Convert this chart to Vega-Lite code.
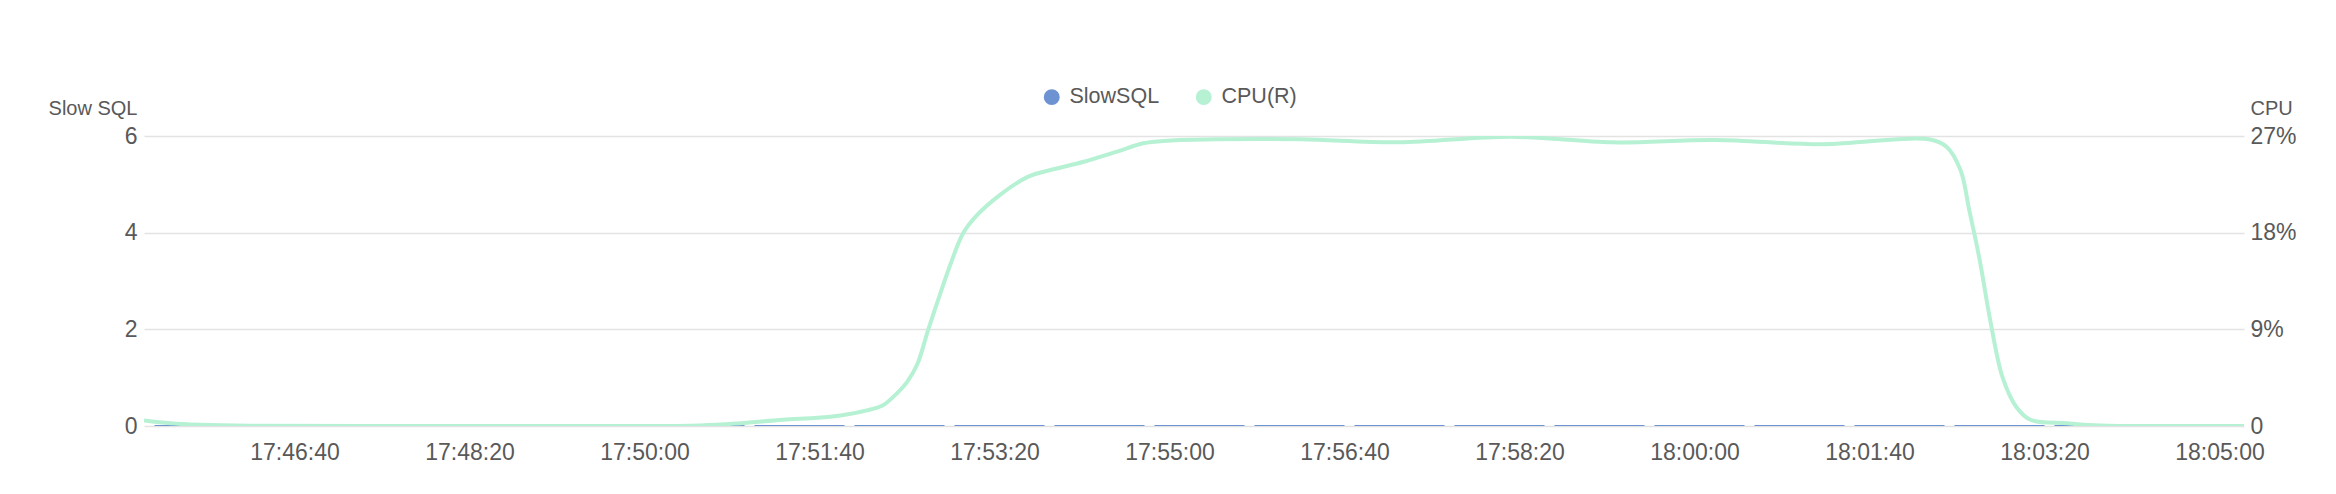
{
  "$schema": "https://vega.github.io/schema/vega-lite/v6.json",
  "width": 2100,
  "height": 290,
  "autosize": {"type": "none"},
  "padding": {"left": 144, "top": 136, "right": 92, "bottom": 68},
  "background": "white",
  "config": {
    "view": {"stroke": null},
    "font": "Liberation Sans",
    "axis": {
      "labelFont": "Liberation Sans",
      "titleFont": "Liberation Sans",
      "labelColor": "#595959",
      "titleColor": "#595959",
      "domain": false,
      "ticks": false,
      "tickSize": 0
    }
  },
  "datasets": {
    "slow": [
      {"time": "2018-10-15T17:45:20Z", "count": 0},
      {"time": "2018-10-15T17:46:20Z", "count": 0},
      {"time": "2018-10-15T17:47:20Z", "count": 0},
      {"time": "2018-10-15T17:48:20Z", "count": 0},
      {"time": "2018-10-15T17:49:20Z", "count": 0},
      {"time": "2018-10-15T17:50:20Z", "count": 0},
      {"time": "2018-10-15T17:51:20Z", "count": 0},
      {"time": "2018-10-15T17:52:20Z", "count": 0},
      {"time": "2018-10-15T17:53:20Z", "count": 0},
      {"time": "2018-10-15T17:54:20Z", "count": 0},
      {"time": "2018-10-15T17:55:20Z", "count": 0},
      {"time": "2018-10-15T17:56:20Z", "count": 0},
      {"time": "2018-10-15T17:57:20Z", "count": 0},
      {"time": "2018-10-15T17:58:20Z", "count": 0},
      {"time": "2018-10-15T17:59:20Z", "count": 0},
      {"time": "2018-10-15T18:00:20Z", "count": 0},
      {"time": "2018-10-15T18:01:20Z", "count": 0},
      {"time": "2018-10-15T18:02:20Z", "count": 0},
      {"time": "2018-10-15T18:03:20Z", "count": 0},
      {"time": "2018-10-15T18:04:20Z", "count": 0},
      {"time": "2018-10-15T18:05:20Z", "count": 0}
    ],
    "cpu": [
      {"time": "2018-10-15T17:45:14Z", "cpu": 0.51},
      {"time": "2018-10-15T17:45:29Z", "cpu": 0.25},
      {"time": "2018-10-15T17:45:46Z", "cpu": 0.11},
      {"time": "2018-10-15T17:46:15Z", "cpu": 0.02},
      {"time": "2018-10-15T17:47:40Z", "cpu": 0},
      {"time": "2018-10-15T17:49:35Z", "cpu": 0},
      {"time": "2018-10-15T17:50:32Z", "cpu": 0.05},
      {"time": "2018-10-15T17:50:55Z", "cpu": 0.26},
      {"time": "2018-10-15T17:51:19Z", "cpu": 0.58},
      {"time": "2018-10-15T17:51:39Z", "cpu": 0.76},
      {"time": "2018-10-15T17:51:52Z", "cpu": 0.98},
      {"time": "2018-10-15T17:52:07Z", "cpu": 1.45},
      {"time": "2018-10-15T17:52:16Z", "cpu": 1.91},
      {"time": "2018-10-15T17:52:22Z", "cpu": 2.69},
      {"time": "2018-10-15T17:52:30Z", "cpu": 4.09},
      {"time": "2018-10-15T17:52:36Z", "cpu": 5.8},
      {"time": "2018-10-15T17:52:42Z", "cpu": 8.91},
      {"time": "2018-10-15T17:52:49Z", "cpu": 12.33},
      {"time": "2018-10-15T17:52:55Z", "cpu": 15.13},
      {"time": "2018-10-15T17:53:02Z", "cpu": 17.93},
      {"time": "2018-10-15T17:53:10Z", "cpu": 19.63},
      {"time": "2018-10-15T17:53:23Z", "cpu": 21.5},
      {"time": "2018-10-15T17:53:39Z", "cpu": 23.2},
      {"time": "2018-10-15T17:53:52Z", "cpu": 23.83},
      {"time": "2018-10-15T17:54:11Z", "cpu": 24.6},
      {"time": "2018-10-15T17:54:30Z", "cpu": 25.54},
      {"time": "2018-10-15T17:54:45Z", "cpu": 26.32},
      {"time": "2018-10-15T17:54:59Z", "cpu": 26.56},
      {"time": "2018-10-15T17:55:27Z", "cpu": 26.69},
      {"time": "2018-10-15T17:56:15Z", "cpu": 26.69},
      {"time": "2018-10-15T17:57:11Z", "cpu": 26.41},
      {"time": "2018-10-15T17:58:15Z", "cpu": 26.93},
      {"time": "2018-10-15T17:59:13Z", "cpu": 26.41},
      {"time": "2018-10-15T18:00:12Z", "cpu": 26.63},
      {"time": "2018-10-15T18:01:13Z", "cpu": 26.23},
      {"time": "2018-10-15T18:02:14Z", "cpu": 26.7},
      {"time": "2018-10-15T18:02:24Z", "cpu": 26.0},
      {"time": "2018-10-15T18:02:32Z", "cpu": 23.83},
      {"time": "2018-10-15T18:02:37Z", "cpu": 20.1},
      {"time": "2018-10-15T18:02:43Z", "cpu": 15.43},
      {"time": "2018-10-15T18:02:49Z", "cpu": 9.84},
      {"time": "2018-10-15T18:02:56Z", "cpu": 4.55},
      {"time": "2018-10-15T18:03:04Z", "cpu": 1.75},
      {"time": "2018-10-15T18:03:12Z", "cpu": 0.58},
      {"time": "2018-10-15T18:03:33Z", "cpu": 0.26},
      {"time": "2018-10-15T18:03:52Z", "cpu": 0.05},
      {"time": "2018-10-15T18:04:30Z", "cpu": 0},
      {"time": "2018-10-15T18:05:14Z", "cpu": 0}
    ]
  },
  "layer": [
    {
      "data": {"name": "slow"},
      "mark": {"type": "line", "strokeWidth": 2, "strokeDash": [90, 10], "clip": true},
      "encoding": {
        "x": {
          "field": "time",
          "type": "temporal",
          "scale": {
            "type": "utc",
            "domain": [
              {"year": 2018, "month": 10, "date": 15, "hours": 17, "minutes": 45, "seconds": 14, "utc": true},
              {"year": 2018, "month": 10, "date": 15, "hours": 18, "minutes": 5, "seconds": 14, "utc": true}
            ]
          },
          "axis": {
            "title": null,
            "format": "%H:%M:%S",
            "grid": false,
            "labelFontSize": 23,
            "labelPadding": 15,
            "labelFlush": false,
            "labelOverlap": false,
            "values": [
              {"year": 2018, "month": 10, "date": 15, "hours": 17, "minutes": 46, "seconds": 40, "utc": true},
              {"year": 2018, "month": 10, "date": 15, "hours": 17, "minutes": 48, "seconds": 20, "utc": true},
              {"year": 2018, "month": 10, "date": 15, "hours": 17, "minutes": 50, "seconds": 0, "utc": true},
              {"year": 2018, "month": 10, "date": 15, "hours": 17, "minutes": 51, "seconds": 40, "utc": true},
              {"year": 2018, "month": 10, "date": 15, "hours": 17, "minutes": 53, "seconds": 20, "utc": true},
              {"year": 2018, "month": 10, "date": 15, "hours": 17, "minutes": 55, "seconds": 0, "utc": true},
              {"year": 2018, "month": 10, "date": 15, "hours": 17, "minutes": 56, "seconds": 40, "utc": true},
              {"year": 2018, "month": 10, "date": 15, "hours": 17, "minutes": 58, "seconds": 20, "utc": true},
              {"year": 2018, "month": 10, "date": 15, "hours": 18, "minutes": 0, "seconds": 0, "utc": true},
              {"year": 2018, "month": 10, "date": 15, "hours": 18, "minutes": 1, "seconds": 40, "utc": true},
              {"year": 2018, "month": 10, "date": 15, "hours": 18, "minutes": 3, "seconds": 20, "utc": true},
              {"year": 2018, "month": 10, "date": 15, "hours": 18, "minutes": 5, "seconds": 0, "utc": true}
            ]
          }
        },
        "y": {
          "field": "count",
          "type": "quantitative",
          "scale": {"domain": [0, 6], "nice": false},
          "axis": {
            "title": "Slow SQL",
            "values": [0, 2, 4, 6],
            "grid": true,
            "gridColor": "#e3e3e3",
            "gridWidth": 1.6,
            "labelFontSize": 23,
            "labelPadding": 7,
            "titleFontSize": 20,
            "titleFontWeight": "normal",
            "titleAngle": 0,
            "titleAlign": "right",
            "titleBaseline": "middle",
            "titleX": -7,
            "titleY": -28
          }
        },
        "color": {
          "datum": "SlowSQL",
          "type": "nominal",
          "scale": {"domain": ["SlowSQL", "CPU(R)"], "range": ["#6d93d3", "#b6f1d4"]},
          "legend": {
            "title": null,
            "orient": "none",
            "direction": "horizontal",
            "legendX": 897,
            "legendY": -50,
            "symbolType": "circle",
            "symbolSize": 254,
            "symbolStrokeWidth": 0,
            "labelFontSize": 21.5,
            "labelColor": "#595959",
            "labelFont": "Liberation Sans",
            "labelOffset": 7,
            "columnPadding": 33,
            "encode": {
              "symbols": {
                "update": {
                  "fill": {"scale": "color", "field": "value"},
                  "opacity": {"value": 1}
                }
              }
            }
          }
        }
      }
    },
    {
      "data": {"name": "cpu"},
      "mark": {"type": "line", "strokeWidth": 4, "interpolate": "catmull-rom", "clip": true},
      "encoding": {
        "x": {"field": "time", "type": "temporal"},
        "y": {
          "field": "cpu",
          "type": "quantitative",
          "scale": {"domain": [0, 27], "nice": false},
          "axis": {
            "orient": "right",
            "title": "CPU",
            "values": [0, 9, 18, 27],
            "labelExpr": "datum.value == 0 ? '0' : datum.value + '%'",
            "grid": false,
            "labelFontSize": 23,
            "labelPadding": 6,
            "titleFontSize": 20,
            "titleFontWeight": "normal",
            "titleAngle": 0,
            "titleAlign": "left",
            "titleBaseline": "middle",
            "titleX": 6,
            "titleY": -28
          }
        },
        "color": {"datum": "CPU(R)", "type": "nominal"}
      }
    }
  ],
  "resolve": {"scale": {"y": "independent"}}
}
